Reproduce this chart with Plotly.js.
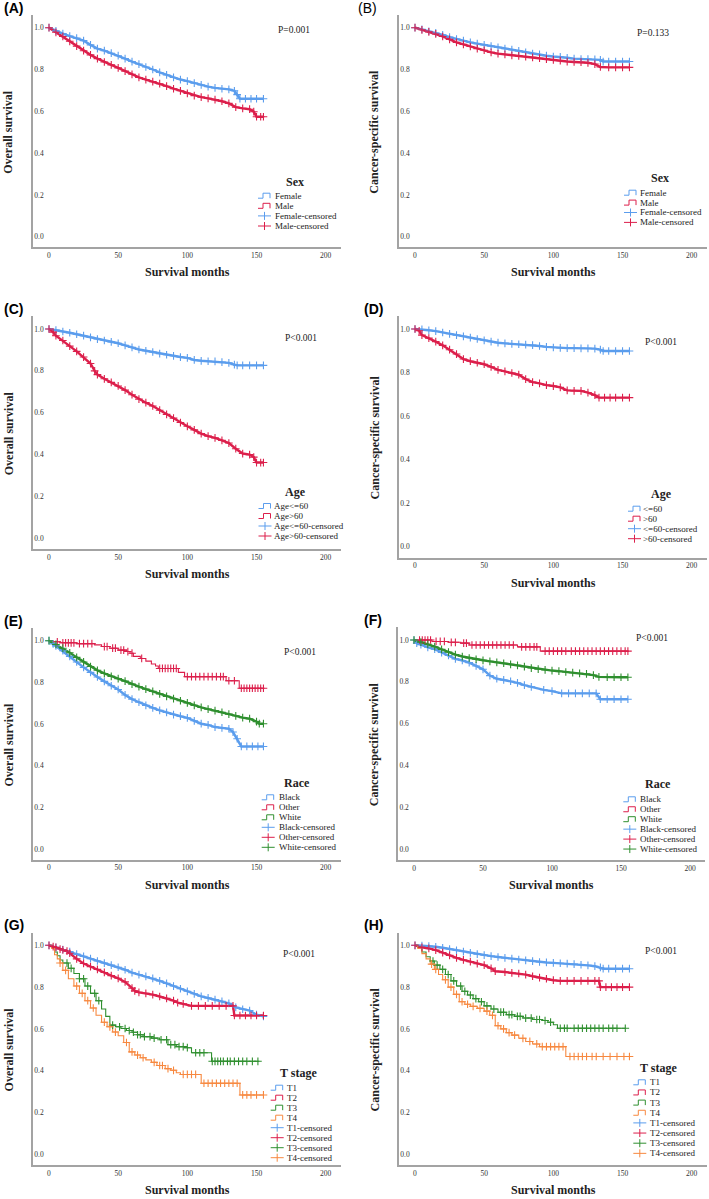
<!DOCTYPE html>
<html>
<head>
<meta charset="utf-8">
<script src="https://cdn.plot.ly/plotly-3.0.1.min.js"></script>
<style>
  body { margin: 0; background: #fff; }
  #chart { width: 709px; height: 1199px; }
</style>
</head>
<body>
<div id="chart"></div>
<script>
// ---- data (months, survival) ----

var xTicks = [0, 50, 100, 150, 200];
var yTicks = [0, 0.2, 0.4, 0.6, 0.8, 1.0];

// (A) overall survival by sex
var osFemaleT = [0,5,10,15,20,25,30,35,40,45,50,55,60,65,70,75,80,85,90,95,100,105,110,115,120,125,130,134,136,138,142,146,150,155];
var osFemaleS = [1.0,0.985,0.972,0.960,0.950,0.938,0.918,0.900,0.890,0.878,0.866,0.852,0.838,0.826,0.812,0.800,0.786,0.774,0.762,0.752,0.744,0.735,0.726,0.718,0.712,0.708,0.705,0.698,0.680,0.660,0.660,0.660,0.660,0.660];
var osMaleT = [0,5,10,15,20,25,30,35,40,45,50,55,60,65,70,75,80,85,90,95,100,105,110,115,120,125,130,135,140,145,148,150,153,155];
var osMaleS = [1.0,0.978,0.958,0.935,0.912,0.890,0.870,0.852,0.836,0.822,0.808,0.792,0.777,0.762,0.752,0.742,0.732,0.720,0.708,0.698,0.686,0.675,0.668,0.662,0.656,0.648,0.638,0.620,0.614,0.610,0.598,0.574,0.574,0.574];

// (B) cancer-specific survival by sex
var cssFemaleT = [0,5,10,15,20,25,30,35,40,45,50,55,60,65,70,75,80,85,90,95,100,105,110,115,120,125,130,134,136,140,145,150,155];
var cssFemaleS = [1.0,0.992,0.983,0.975,0.966,0.955,0.946,0.938,0.930,0.924,0.918,0.912,0.906,0.900,0.895,0.889,0.882,0.876,0.872,0.866,0.862,0.860,0.856,0.852,0.850,0.850,0.848,0.846,0.838,0.838,0.838,0.838,0.838];
var cssMaleT = [0,5,10,15,20,25,30,35,40,45,50,55,60,65,70,75,80,85,90,95,100,105,110,115,120,125,130,134,140,145,150,155];
var cssMaleS = [1.0,0.990,0.980,0.970,0.958,0.944,0.930,0.920,0.910,0.900,0.892,0.882,0.876,0.872,0.868,0.865,0.862,0.858,0.854,0.850,0.846,0.842,0.838,0.836,0.835,0.832,0.826,0.812,0.810,0.810,0.810,0.810];

// (C) overall survival by age
var osAgeLowT = [0,5,10,15,20,25,30,35,40,45,50,55,60,65,70,75,80,85,90,95,100,105,110,115,120,125,130,134,136,140,145,150,155];
var osAgeLowS = [1.0,0.995,0.988,0.982,0.975,0.968,0.960,0.952,0.945,0.938,0.932,0.922,0.912,0.902,0.896,0.890,0.882,0.877,0.872,0.866,0.862,0.852,0.848,0.846,0.845,0.842,0.838,0.830,0.826,0.826,0.826,0.826,0.826];
var osAgeHighT = [0,3,5,10,15,20,25,30,33,35,40,45,50,55,60,65,70,75,80,85,90,95,100,105,110,115,120,125,130,135,140,145,148,150,153,155];
var osAgeHighS = [1.0,0.985,0.968,0.945,0.918,0.893,0.866,0.835,0.800,0.782,0.762,0.745,0.728,0.708,0.686,0.665,0.648,0.632,0.612,0.592,0.574,0.553,0.535,0.518,0.500,0.488,0.480,0.468,0.455,0.428,0.405,0.400,0.388,0.362,0.362,0.362];

// (D) cancer-specific survival by age
var cssAgeLowT = [0,5,10,15,20,25,30,35,40,45,50,55,60,65,70,75,80,85,90,95,100,105,110,115,120,125,130,134,136,140,145,150,155];
var cssAgeLowS = [1.0,0.998,0.994,0.990,0.984,0.978,0.972,0.966,0.960,0.954,0.948,0.942,0.937,0.934,0.932,0.930,0.928,0.926,0.922,0.918,0.915,0.913,0.912,0.912,0.911,0.911,0.910,0.905,0.899,0.899,0.899,0.899,0.899];
var cssAgeHighT = [0,3,5,10,15,20,25,30,35,40,45,50,55,60,65,70,75,80,85,90,95,100,105,110,115,120,125,130,133,137,141,145,150,155];
var cssAgeHighS = [1.0,0.992,0.972,0.958,0.942,0.925,0.905,0.885,0.862,0.852,0.845,0.838,0.826,0.812,0.805,0.798,0.790,0.770,0.756,0.750,0.742,0.738,0.732,0.718,0.716,0.716,0.708,0.696,0.685,0.685,0.685,0.685,0.685,0.685];

// (E) overall survival by race
var osBlackT = [0,3,5,10,15,20,25,30,35,40,45,50,55,60,65,70,75,80,85,90,95,100,105,110,115,120,125,130,133,136,139,143,147,151,155];
var osBlackS = [1.0,0.985,0.975,0.952,0.925,0.898,0.872,0.848,0.826,0.805,0.784,0.766,0.740,0.720,0.705,0.690,0.678,0.666,0.656,0.646,0.638,0.630,0.616,0.602,0.596,0.586,0.582,0.578,0.562,0.530,0.493,0.493,0.493,0.493,0.493];
var osOtherT = [0,3,8,20,33,38,44,50,56,58.5,61,66,70,74,77,79,93.5,98,128,137.5,155];
var osOtherS = [1.0,0.995,0.990,0.986,0.980,0.972,0.964,0.955,0.948,0.940,0.925,0.915,0.902,0.888,0.879,0.867,0.848,0.828,0.808,0.772,0.772];
var osOtherCT = [6,10,12,14,16,18,22,25,28,31,40,42,46,48,52,54,57,60,67,80,82,84,86,88,90,92,100,103,106,109,112,115,118,121,124,126,130,134,139,141,143,145,147,149,151,153,155];
var osOtherCS = [0.995,0.99,0.99,0.99,0.99,0.99,0.986,0.986,0.986,0.986,0.972,0.972,0.964,0.964,0.955,0.955,0.948,0.94,0.915,0.867,0.867,0.867,0.867,0.867,0.867,0.867,0.828,0.828,0.828,0.828,0.828,0.828,0.828,0.828,0.828,0.828,0.808,0.808,0.772,0.772,0.772,0.772,0.772,0.772,0.772,0.772,0.772];
var osWhiteT = [0,5,10,15,20,25,30,35,40,45,50,55,60,65,70,75,80,85,90,95,100,105,110,115,120,125,130,135,140,145,150,152,155];
var osWhiteS = [1.0,0.982,0.964,0.942,0.920,0.898,0.876,0.858,0.843,0.829,0.818,0.806,0.792,0.780,0.768,0.757,0.745,0.733,0.722,0.712,0.702,0.690,0.680,0.672,0.665,0.657,0.648,0.640,0.631,0.626,0.612,0.602,0.602];

// (F) cancer-specific survival by race
var cssBlackT = [0,2,5,10,15,20,25,30,35,40,45,50,55,60,65,70,75,80,85,94,100,107,112,117,122,127,132,135,140,145,150,155];
var cssBlackS = [1.0,0.985,0.978,0.965,0.956,0.940,0.926,0.910,0.902,0.892,0.876,0.860,0.830,0.815,0.809,0.803,0.795,0.784,0.776,0.762,0.756,0.745,0.745,0.745,0.745,0.745,0.745,0.717,0.717,0.717,0.717,0.717];
var cssOtherT = [0,13,25,34,40,75,91.5,155];
var cssOtherS = [1.0,0.993,0.989,0.985,0.976,0.967,0.947,0.947];
var cssOtherCT = [4,6,8,10,12,16,19,22,27,30,36,38,42,45,48,51,54,57,60,63,66,69,72,78,81,84,87,89,95,98,101,104,107,110,114,117,120,123,126,129,132,135,138,141,144,147,150,153,155];
var cssOtherCS = [1.0,1.0,1.0,1.0,1.0,0.993,0.993,0.993,0.989,0.989,0.985,0.985,0.976,0.976,0.976,0.976,0.976,0.976,0.976,0.976,0.976,0.976,0.976,0.967,0.967,0.967,0.967,0.967,0.947,0.947,0.947,0.947,0.947,0.947,0.947,0.947,0.947,0.947,0.947,0.947,0.947,0.947,0.947,0.947,0.947,0.947,0.947,0.947,0.947];
var cssWhiteT = [0,5,10,15,20,25,30,35,40,45,50,55,60,65,70,75,80,85,90,95,100,105,110,115,120,125,130,134,140,145,150,155];
var cssWhiteS = [1.0,0.990,0.980,0.968,0.955,0.942,0.930,0.921,0.914,0.908,0.903,0.898,0.893,0.889,0.884,0.879,0.873,0.866,0.861,0.857,0.854,0.851,0.847,0.844,0.841,0.838,0.832,0.824,0.822,0.822,0.822,0.822];

// (G) overall survival by T stage
var osT1T = [0,5,10,15,20,25,30,35,40,45,50,55,60,65,70,75,80,85,90,95,100,105,110,115,120,125,130,135,140,145,150,155];
var osT1S = [1.0,0.990,0.980,0.970,0.958,0.947,0.936,0.925,0.915,0.905,0.895,0.883,0.869,0.860,0.851,0.842,0.830,0.818,0.805,0.792,0.780,0.768,0.756,0.748,0.740,0.732,0.722,0.703,0.694,0.688,0.668,0.660];
var osT2T = [0,3,5,8,10,13,15,20,25,30,35,40,45,50,55,60,62,65,70,75,80,85,90,93,97,103,108,113,118,123,128,133,134,138,142,146,150,155];
var osT2S = [1.0,0.994,0.990,0.982,0.978,0.972,0.962,0.935,0.913,0.898,0.885,0.870,0.855,0.842,0.825,0.795,0.782,0.775,0.770,0.764,0.755,0.746,0.735,0.726,0.720,0.710,0.710,0.710,0.710,0.710,0.710,0.710,0.664,0.664,0.664,0.664,0.664,0.664];
var osT3T = [0,2,4,6,8,10,14,18,22,26,30,34,38,41,44,48,52,56,60,64,68,74,80,86,92,98,103,117.5,152];
var osT3S = [1.0,0.988,0.968,0.950,0.930,0.915,0.890,0.865,0.840,0.805,0.770,0.735,0.695,0.660,0.618,0.610,0.602,0.592,0.584,0.572,0.563,0.556,0.548,0.525,0.515,0.510,0.486,0.445,0.445];
var osT3CT = [13,16,22,25,28,33,36,46,51,55,58,61,64,66,69,73,76,81,85,88,91,94,97,100,106,109,112,118,120,122,124,126,129,131,134,137,140,143,147,151];
var osT3CS = [0.915,0.890,0.840,0.840,0.805,0.770,0.735,0.618,0.610,0.602,0.592,0.584,0.572,0.572,0.563,0.563,0.556,0.548,0.548,0.525,0.525,0.515,0.515,0.510,0.486,0.486,0.486,0.445,0.445,0.445,0.445,0.445,0.445,0.445,0.445,0.445,0.445,0.445,0.445,0.445];
var osT4T = [0,2,4,6,8,10,14,18,22,26,30,34,38,42,46,50,54,58,62,66,70,74,78,84,88,92,95,110,138,155];
var osT4S = [1.0,0.985,0.955,0.935,0.915,0.880,0.840,0.805,0.770,0.735,0.700,0.665,0.632,0.610,0.585,0.567,0.535,0.490,0.475,0.462,0.452,0.440,0.425,0.410,0.402,0.390,0.382,0.340,0.284,0.284];
var osT4CT = [8,12,20,24,28,32,40,44,48,56,60,64,68,76,80,82,86,90,97,100,103,106,112,115,118,121,124,127,130,133,136,140,143,146,150,155];
var osT4CS = [0.915,0.880,0.805,0.770,0.735,0.700,0.632,0.610,0.585,0.535,0.490,0.475,0.462,0.440,0.425,0.425,0.410,0.402,0.382,0.382,0.382,0.382,0.340,0.340,0.340,0.340,0.340,0.340,0.340,0.340,0.340,0.284,0.284,0.284,0.284,0.284];

// (H) cancer-specific survival by T stage
var cssT1T = [0,5,10,15,20,25,30,35,40,45,50,55,60,65,70,75,80,85,90,95,100,105,110,115,120,125,130,134,136,140,145,150,155];
var cssT1S = [1.0,0.998,0.996,0.993,0.988,0.982,0.976,0.970,0.964,0.958,0.953,0.948,0.944,0.940,0.936,0.932,0.928,0.924,0.920,0.918,0.916,0.914,0.912,0.910,0.907,0.904,0.900,0.894,0.888,0.888,0.888,0.888,0.888];
var cssT2T = [0,5,10,15,20,25,30,35,40,45,50,55,58,65,70,75,80,85,90,95,100,105,110,115,120,125,130,133,134,138,142,146,150,155];
var cssT2S = [1.0,0.990,0.985,0.977,0.965,0.952,0.940,0.930,0.922,0.912,0.905,0.890,0.876,0.872,0.868,0.865,0.860,0.852,0.845,0.840,0.833,0.830,0.830,0.830,0.830,0.830,0.830,0.830,0.800,0.800,0.800,0.800,0.800,0.800];
var cssT3T = [0,2,5,8,11,14,18,22,26,30,34,38,42,46,50,55,60,66,72,78,85,92,96,100,103,152];
var cssT3S = [1.0,0.990,0.968,0.945,0.925,0.905,0.885,0.860,0.830,0.805,0.780,0.762,0.745,0.730,0.710,0.695,0.680,0.668,0.660,0.652,0.645,0.640,0.632,0.620,0.603,0.603];
var cssT3CT = [13,16,20,24,28,33,36,40,44,48,52,57,62,64,68,70,74,76,80,84,88,90,94,98,105,108,110,115,118,121,124,127,130,133,136,140,143,146,152];
var cssT3CS = [0.925,0.905,0.885,0.860,0.830,0.805,0.780,0.762,0.745,0.730,0.710,0.695,0.680,0.680,0.668,0.668,0.660,0.660,0.652,0.652,0.645,0.645,0.640,0.632,0.603,0.603,0.603,0.603,0.603,0.603,0.603,0.603,0.603,0.603,0.603,0.603,0.603,0.603,0.603];
var cssT4T = [0,2,5,8,11,14,17,20,24,28,32,36,40,45,50,54,58,62,66,70,75,80,85,90,109,155];
var cssT4S = [1.0,0.985,0.960,0.935,0.910,0.885,0.860,0.835,0.800,0.765,0.730,0.718,0.708,0.698,0.685,0.665,0.615,0.600,0.582,0.570,0.555,0.540,0.528,0.515,0.468,0.468];
var cssT4CT = [12,15,22,26,30,34,38,42,47,52,56,60,64,68,72,78,83,88,92,95,98,101,104,107,112,115,118,121,124,128,131,136,141,146,151,155];
var cssT4CS = [0.910,0.885,0.835,0.800,0.765,0.730,0.718,0.708,0.698,0.685,0.665,0.615,0.600,0.582,0.570,0.555,0.540,0.528,0.515,0.515,0.515,0.515,0.515,0.515,0.468,0.468,0.468,0.468,0.468,0.468,0.468,0.468,0.468,0.468,0.468,0.468];

// ---- styling ----
var BLUE = '#5b9ded', RED = '#dc1f4b', GREEN = '#2f8f2f', ORANGE = '#f7883f';
var SERIF = 'Liberation Serif, Times New Roman, serif';
var SANS = 'Liberation Sans, Arial, sans-serif';
var W = 709, H = 1199;
var X_RANGE = [-11.5, 211], Y_RANGE = [-0.05, 1.06];

// curve helper: dense curves put a censor mark at every sampled point
function curve(name, color, t, s, ct, cs) {
  return {name: name, color: color, t: t, s: s, ct: ct || t, cs: cs || s, dense: !ct};
}

// x0/x200: pixel of month 0 and 200, y1/y0: pixel of survival 1.0 and 0.0
var panels = [
  {label: '(A)', bold: true, x0: 49, x200: 325.7, y1: 27.7, y0: 236.7, ytitle: 'Overall survival',
   p: 'P=0.001', pPos: [294, 30.3], group: 'Sex',
   leg: {tx: 294.7, ty: 181.7, ix: 258, lx: 272.7, row0: 195.7, dy: 10.1},
   curves: [curve('Female', BLUE, osFemaleT, osFemaleS), curve('Male', RED, osMaleT, osMaleS)]},
  {label: '(B)', bold: false, x0: 415, x200: 691.7, y1: 27.7, y0: 236.7, ytitle: 'Cancer-specific survival',
   p: 'P=0.133', pPos: [653, 33.3], group: 'Sex',
   leg: {tx: 660, ty: 178.3, ix: 624, lx: 638, row0: 192.7, dy: 9.9},
   curves: [curve('Female', BLUE, cssFemaleT, cssFemaleS), curve('Male', RED, cssMaleT, cssMaleS)]},
  {label: '(C)', bold: true, x0: 49, x200: 325.7, y1: 329, y0: 538.3, ytitle: 'Overall survival',
   p: 'P<0.001', pPos: [300.7, 337.7], group: 'Age',
   leg: {tx: 295.5, ty: 492, ix: 258.5, lx: 271.5, row0: 506, dy: 10},
   curves: [curve('Age<=60', BLUE, osAgeLowT, osAgeLowS), curve('Age>60', RED, osAgeHighT, osAgeHighS)]},
  {label: '(D)', bold: true, x0: 415, x200: 691.7, y1: 329, y0: 546.7, ytitle: 'Cancer-specific survival',
   p: 'P<0.001', pPos: [660.8, 341.7], group: 'Age',
   leg: {tx: 661.5, ty: 494, ix: 628, lx: 641.3, row0: 508.7, dy: 10},
   curves: [curve('<=60', BLUE, cssAgeLowT, cssAgeLowS), curve('>60', RED, cssAgeHighT, cssAgeHighS)]},
  {label: '(E)', bold: true, x0: 49, x200: 325.7, y1: 640.7, y0: 849.3, ytitle: 'Overall survival',
   p: 'P<0.001', pPos: [299.8, 652.3], group: 'Race',
   leg: {tx: 297, ty: 782.7, ix: 261.7, lx: 276.7, row0: 797.3, dy: 10},
   curves: [curve('Black', BLUE, osBlackT, osBlackS),
            curve('Other', RED, osOtherT, osOtherS, osOtherCT, osOtherCS),
            curve('White', GREEN, osWhiteT, osWhiteS)]},
  {label: '(F)', bold: true, x0: 414, x200: 690, y1: 640, y0: 849.3, ytitle: 'Cancer-specific survival',
   p: 'P<0.001', pPos: [652, 637.7], group: 'Race',
   leg: {tx: 658, ty: 784.3, ix: 623.3, lx: 638, row0: 799.3, dy: 9.95},
   curves: [curve('Black', BLUE, cssBlackT, cssBlackS),
            curve('Other', RED, cssOtherT, cssOtherS, cssOtherCT, cssOtherCS),
            curve('White', GREEN, cssWhiteT, cssWhiteS)]},
  {label: '(G)', bold: true, x0: 49, x200: 325.7, y1: 945.3, y0: 1154.3, ytitle: 'Overall survival',
   p: 'P<0.001', pPos: [298.5, 954], group: 'T stage',
   leg: {tx: 298, ty: 1073.3, ix: 270.7, lx: 285.3, row0: 1087.7, dy: 10},
   curves: [curve('T1', BLUE, osT1T, osT1S), curve('T2', RED, osT2T, osT2S),
            curve('T3', GREEN, osT3T, osT3S, osT3CT, osT3CS),
            curve('T4', ORANGE, osT4T, osT4S, osT4CT, osT4CS)]},
  {label: '(H)', bold: true, x0: 415, x200: 691.7, y1: 945.3, y0: 1154.3, ytitle: 'Cancer-specific survival',
   p: 'P<0.001', pPos: [661, 950.7], group: 'T stage',
   leg: {tx: 658.7, ty: 1068.3, ix: 633.3, lx: 648, row0: 1082.3, dy: 10.15},
   curves: [curve('T1', BLUE, cssT1T, cssT1S), curve('T2', RED, cssT2T, cssT2S),
            curve('T3', GREEN, cssT3T, cssT3S, cssT3CT, cssT3CS),
            curve('T4', ORANGE, cssT4T, cssT4S, cssT4CT, cssT4CS)]}
];

function fx(px) { return px / W; }
function fy(py) { return 1 - py / H; }
function esc(s) { return s.replace(/</g, '&lt;').replace(/>/g, '&gt;'); }

var traces = [];
var layout = {
  width: W, height: H,
  margin: {l: 0, r: 0, t: 0, b: 0},
  paper_bgcolor: '#fff', plot_bgcolor: '#fff',
  showlegend: false,
  annotations: [], shapes: []
};

panels.forEach(function (p, i) {
  var n = i + 1;
  var kx = (p.x200 - p.x0) / 200, ky = p.y0 - p.y1;
  var xl = p.x0 + X_RANGE[0] * kx, xr = p.x0 + X_RANGE[1] * kx;
  var yb = p.y0 - Y_RANGE[0] * ky, yt = p.y0 - Y_RANGE[1] * ky;

  layout['xaxis' + n] = {
    domain: [fx(xl), fx(xr)], range: X_RANGE, anchor: 'y' + n,
    tickvals: xTicks, ticks: '', showgrid: false, zeroline: false,
    showline: true, linecolor: '#a3a3a3', linewidth: 1.5,
    tickfont: {family: SERIF, size: 7.5, color: '#333'}
  };
  layout['yaxis' + n] = {
    domain: [fy(yb), fy(yt)], range: Y_RANGE, anchor: 'x' + n,
    tickvals: yTicks, tickformat: '.1f', ticks: '', ticklabelposition: 'inside',
    showgrid: false, zeroline: false,
    showline: true, linecolor: '#a3a3a3', linewidth: 1.5,
    tickfont: {family: SERIF, size: 7.5, color: '#333'}
  };

  // dense curves look smooth at this size, sparse ones show their steps
  p.curves.forEach(function (c) {
    traces.push({
      x: c.t, y: c.s, name: c.name, type: 'scatter', mode: 'lines',
      line: {shape: c.dense ? 'linear' : 'hv', color: c.color, width: c.dense ? 2.4 : 1.1},
      xaxis: 'x' + n, yaxis: 'y' + n, hoverinfo: 'skip'
    });
  });
  p.curves.forEach(function (c) {
    traces.push({
      x: c.ct, y: c.cs, name: c.name + '-censored', type: 'scatter', mode: 'markers',
      marker: {symbol: 'cross-thin', size: 5.5, line: {color: c.color, width: 1.1}},
      xaxis: 'x' + n, yaxis: 'y' + n, hoverinfo: 'skip'
    });
  });

  var ann = layout.annotations;
  // panel letter
  ann.push({xref: 'paper', yref: 'paper', x: fx(n % 2 ? 1.5 : (p.label === '(B)' ? 355.5 : 361.5)),
            y: fy(p.y1 - 20), xanchor: 'left', yanchor: 'middle', showarrow: false,
            text: p.bold ? '<b>' + p.label + '</b>' : p.label,
            font: {family: SANS, size: 14, color: '#000'}});
  // axis titles
  ann.push({xref: 'paper', yref: 'paper', x: fx(xl - 24.5), y: fy((p.y1 + p.y0) / 2),
            xanchor: 'center', yanchor: 'middle', textangle: -90, showarrow: false,
            text: '<b>' + p.ytitle + '</b>', font: {family: SERIF, size: 12, color: '#222'}});
  ann.push({xref: 'paper', yref: 'paper', x: fx((xl + xr) / 2), y: fy(yb + 25),
            xanchor: 'center', yanchor: 'middle', showarrow: false,
            text: '<b>Survival months</b>', font: {family: SERIF, size: 12, color: '#222'}});
  // p value
  ann.push({xref: 'paper', yref: 'paper', x: fx(p.pPos[0]), y: fy(p.pPos[1]),
            xanchor: 'center', yanchor: 'middle', showarrow: false,
            text: esc(p.p), font: {family: SERIF, size: 9.5, color: '#222'}});

  // legend drawn by hand (SPSS style, tight rows)
  var L = p.leg;
  ann.push({xref: 'paper', yref: 'paper', x: fx(L.tx), y: fy(L.ty),
            xanchor: 'center', yanchor: 'middle', showarrow: false,
            text: '<b>' + p.group + '</b>', font: {family: SERIF, size: 12, color: '#222'}});
  var names = p.curves.map(function (c) { return c.name; })
    .concat(p.curves.map(function (c) { return c.name + '-censored'; }));
  names.forEach(function (nm, k) {
    var c = p.curves[k % p.curves.length];
    var ry = L.row0 + k * L.dy;
    ann.push({xref: 'paper', yref: 'paper', x: fx(L.lx), y: fy(ry),
              xanchor: 'left', yanchor: 'middle', showarrow: false,
              text: esc(nm), font: {family: SERIF, size: 9, color: '#222'}});
    var path;
    if (k < p.curves.length) {
      path = 'M' + fx(L.ix) + ',' + fy(ry + 2.5) + ' L' + fx(L.ix + 5) + ',' + fy(ry + 2.5) +
             ' L' + fx(L.ix + 5) + ',' + fy(ry - 2.5) + ' L' + fx(L.ix + 12) + ',' + fy(ry - 2.5) +
             ' L' + fx(L.ix + 12) + ',' + fy(ry + 2.5);
    } else {
      path = 'M' + fx(L.ix) + ',' + fy(ry) + ' L' + fx(L.ix + 13) + ',' + fy(ry) +
             ' M' + fx(L.ix + 6.5) + ',' + fy(ry - 4) + ' L' + fx(L.ix + 6.5) + ',' + fy(ry + 4);
    }
    layout.shapes.push({type: 'path', xref: 'paper', yref: 'paper', path: path,
                        line: {color: c.color, width: 1}});
  });
});

var config = {displayModeBar: false, responsive: false};

Plotly.newPlot('chart', traces, layout, config);
</script>
</body>
</html>
